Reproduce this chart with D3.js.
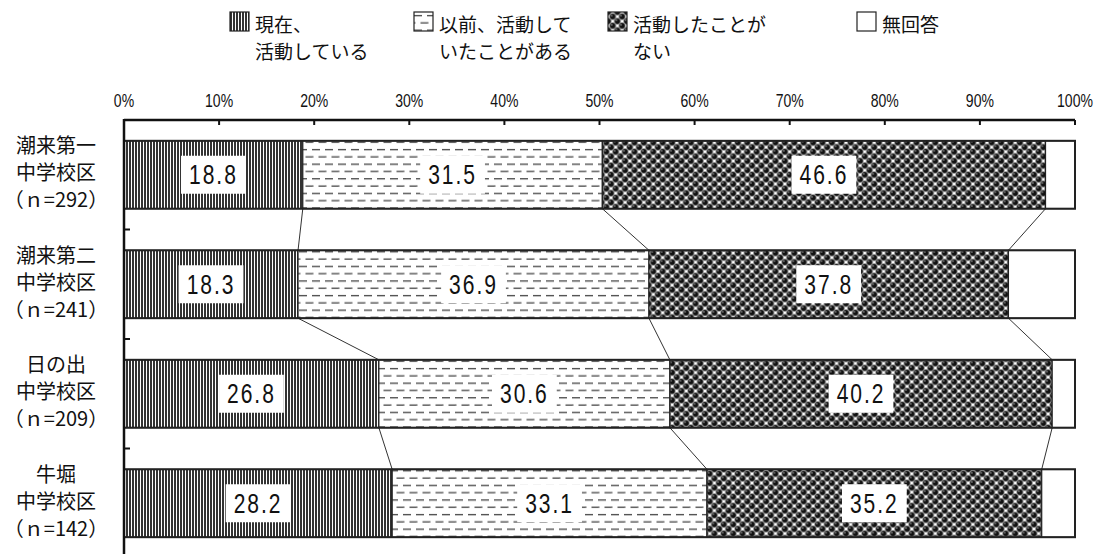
<!DOCTYPE html>
<html>
<head>
<meta charset="utf-8">
<script src="https://cdn.jsdelivr.net/npm/d3@7"></script>
<style>
  body { margin: 0; background: #fff; }
  svg { display: block; }
  .jp { font-family: "Noto Sans CJK JP", sans-serif; fill: #111; }
  .num { font-family: "Liberation Sans", Arial, sans-serif; fill: #111; }
</style>
</head>
<body>
<script>
// school districts (rows)
const districts = ["潮来第一", "潮来第二", "日の出", "牛堀"];
const sampleSizes = [292, 241, 209, 142];
// answer categories
const answers = ["現在、活動している", "以前、活動していたことがある", "活動したことがない", "無回答"];
const legendLines = [["現在、", "活動している"], ["以前、活動して", "いたことがある"], ["活動したことが", "ない"], ["無回答"]];
// percentages per answer, one value per district
const nowActive = [18.8, 18.3, 26.8, 28.2];
const pastActive = [31.5, 36.9, 30.6, 33.1];
const neverActive = [46.6, 37.8, 40.2, 35.2];
const noAnswer = [3.1, 7.0, 2.4, 3.5];
const xTicks = [0, 10, 20, 30, 40, 50, 60, 70, 80, 90, 100];

const width = 1099, height = 554;
const svg = d3.select("body").append("svg")
    .attr("width", width)
    .attr("height", height);

// patterns for the four answers
const defs = svg.append("defs");
const pStripe = defs.append("pattern").attr("id", "pStripe")
    .attr("patternUnits", "userSpaceOnUse").attr("width", 3).attr("height", 10);
pStripe.append("rect").attr("width", 3).attr("height", 10).attr("fill", "#fff");
pStripe.append("rect").attr("width", 2).attr("height", 10).attr("fill", "#333");

const pDash = defs.append("pattern").attr("id", "pDash")
    .attr("patternUnits", "userSpaceOnUse").attr("width", 13).attr("height", 14.6);
pDash.append("rect").attr("width", 13).attr("height", 14.6).attr("fill", "#fff");
[[0, 8, 3.6], [6.5, 14.5, 10.9], [-6.5, 1.5, 10.9]].forEach(function(d){
    pDash.append("line").attr("x1", d[0]).attr("x2", d[1]).attr("y1", d[2]).attr("y2", d[2])
        .attr("stroke", "#444").attr("stroke-width", 1.3);
});

const pBall = defs.append("pattern").attr("id", "pBall")
    .attr("patternUnits", "userSpaceOnUse").attr("width", 9.4).attr("height", 9.2);
pBall.append("rect").attr("width", 9.4).attr("height", 9.2).attr("fill", "#fff");
[[0, 0], [9.4, 0], [0, 9.2], [9.4, 9.2], [4.7, 4.6]].forEach(function(d){
    pBall.append("circle").attr("cx", d[0]).attr("cy", d[1]).attr("r", 3.2)
        .attr("fill", "#111").attr("stroke", "#aaa").attr("stroke-width", 0.7);
    pBall.append("circle").attr("cx", d[0] - 1).attr("cy", d[1] - 1).attr("r", 0.8)
        .attr("fill", "#888");
});

const fills = ["url(#pStripe)", "url(#pDash)", "url(#pBall)", "#fff"];

// scales
const x = d3.scaleLinear().domain([0, 100]).range([124, 1075]);
const y = d3.scaleBand().domain(districts).range([120, 558])
    .paddingInner(0.38).paddingOuter(0.19);

// stacked data
const table = districts.map(function(d, i){
    return {district: d, n: sampleSizes[i],
            0: nowActive[i], 1: pastActive[i], 2: neverActive[i], 3: noAnswer[i]};
});
const series = d3.stack().keys([0, 1, 2, 3])(table);

// connector lines between bars
const gap = y.step() - y.bandwidth();
for (let k = 0; k < 3; k++){
    for (let i = 0; i < districts.length - 1; i++){
        svg.append("line")
           .attr("x1", x(series[k][i][1]))
           .attr("y1", y(districts[i]) + y.bandwidth())
           .attr("x2", x(series[k][i + 1][1]))
           .attr("y2", y(districts[i + 1]))
           .attr("stroke", "#333")
           .attr("stroke-width", 1);
    }
}

// bars
const groups = svg.selectAll(".layer")
    .data(series).enter()
    .append("g")
    .attr("class", "layer")
    .attr("fill", function(d, i){ return fills[i]; });

groups.selectAll("rect")
    .data(function(d){ return d; })
    .enter().append("rect")
    .attr("x", function(d){ return x(d[0]); })
    .attr("y", function(d){ return y(d.data.district); })
    .attr("width", function(d){ return x(d[1]) - x(d[0]); })
    .attr("height", y.bandwidth())
    .attr("stroke", "#222")
    .attr("stroke-width", 1.2);

// outline each bar
svg.selectAll(".outline")
    .data(districts).enter()
    .append("rect")
    .attr("class", "outline")
    .attr("x", x(0))
    .attr("y", function(d){ return y(d); })
    .attr("width", x(100) - x(0))
    .attr("height", y.bandwidth())
    .attr("fill", "none")
    .attr("stroke", "#222")
    .attr("stroke-width", 2);

// value labels in white boxes (first three answers), narrow digits
const squeeze = 0.78;
for (let k = 0; k < 3; k++){
    series[k].forEach(function(d){
        const cx = (x(d[0]) + x(d[1])) / 2;
        const cy = y(d.data.district) + y.bandwidth() / 2;
        const g = svg.append("g").attr("transform", "translate(" + cx + "," + cy + ")");
        const box = g.append("rect").attr("fill", "#fff");
        const t = g.append("text")
           .attr("class", "num")
           .attr("transform", "scale(" + squeeze + ",1)")
           .attr("text-anchor", "middle")
           .attr("dominant-baseline", "central")
           .attr("font-size", 27)
           .attr("letter-spacing", 2.5)
           .text(d3.format(".1f")(d[1] - d[0]));
        const w = t.node().getBBox().width * squeeze;
        box.attr("x", -w / 2 - 8)
           .attr("y", -19)
           .attr("width", w + 16)
           .attr("height", 38);
    });
}

// top axis
svg.append("line")
   .attr("x1", x(0)).attr("x2", x(100))
   .attr("y1", 120).attr("y2", 120)
   .attr("stroke", "#111").attr("stroke-width", 2.5);
svg.selectAll(".xtick")
   .data(xTicks).enter()
   .append("line")
   .attr("x1", function(d){ return x(d); })
   .attr("x2", function(d){ return x(d); })
   .attr("y1", 120).attr("y2", 125)
   .attr("stroke", "#111").attr("stroke-width", 2);
svg.selectAll(".xlab")
   .data(xTicks).enter()
   .append("text")
   .attr("class", "num")
   .attr("transform", function(d){ return "translate(" + x(d) + ",100) scale(0.78,1)"; })
   .attr("text-anchor", "middle")
   .attr("dominant-baseline", "central")
   .attr("font-size", 18)
   .text(function(d){ return d + "%"; });

// left axis
svg.append("line")
   .attr("x1", x(0)).attr("x2", x(0))
   .attr("y1", 119).attr("y2", height)
   .attr("stroke", "#111").attr("stroke-width", 2.5);
districts.slice(1).forEach(function(d){
    const ty = y(d) - gap / 2;
    svg.append("line")
       .attr("x1", x(0)).attr("x2", x(0) + 6)
       .attr("y1", ty).attr("y2", ty)
       .attr("stroke", "#111").attr("stroke-width", 2);
});

// category labels
table.forEach(function(d){
    const cy = y(d.district) + y.bandwidth() / 2 - 3;
    const lines = [d.district, "中学校区", "（ｎ=" + d.n + "）"];
    lines.forEach(function(line, j){
        svg.append("text")
           .attr("class", "jp")
           .attr("x", 56)
           .attr("y", cy + (j - 1) * 27)
           .attr("text-anchor", "middle")
           .attr("dominant-baseline", "central")
           .attr("font-size", 20)
           .text(line);
    });
});

// legend
const legendX = [230, 414, 608, 857];
answers.forEach(function(a, i){
    const g = svg.append("g").attr("transform", "translate(" + legendX[i] + ",12)");
    g.append("rect")
     .attr("width", 19).attr("height", 19)
     .attr("fill", fills[i])
     .attr("stroke", "#222").attr("stroke-width", 1.2);
    legendLines[i].forEach(function(line, j){
        g.append("text")
         .attr("class", "jp")
         .attr("x", 25)
         .attr("y", 11 + j * 27)
         .attr("dominant-baseline", "central")
         .attr("font-size", 19)
         .text(line);
    });
});
</script>
</body>
</html>
